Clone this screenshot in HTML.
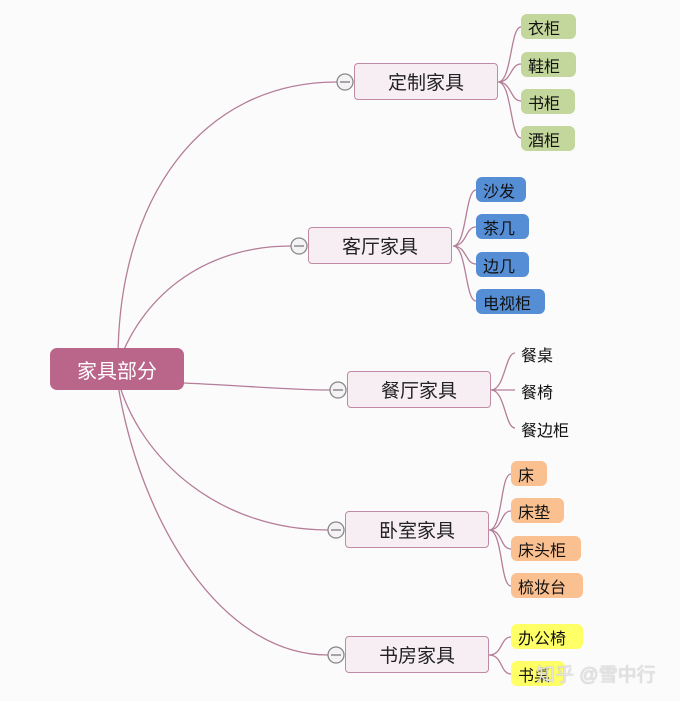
<!DOCTYPE html>
<html><head><meta charset="utf-8"><style>
body{margin:0;background:#fcfbfc;width:680px;height:701px;overflow:hidden;position:relative;font-family:"Liberation Sans","Noto Sans CJK SC",sans-serif}
.b{position:absolute;box-sizing:border-box;display:flex;align-items:center;justify-content:center}
.m{background:#f7eef3;border:1.5px solid #c08aa5;border-radius:4px;font-size:19px;color:#222;width:144px;height:37px}
.l{border-radius:6px;font-size:16px;color:#111;height:25px;justify-content:flex-start;padding-left:7px}
.g{background:#c3d69b}.u{background:#558ed5}.o{background:#fac090}.y{background:#ffff66}
.t{position:absolute;font-size:16px;color:#111}
</style></head><body>
<svg width="680" height="701" style="position:absolute;left:0;top:0">
<g fill="none" stroke="#b47d98" stroke-width="1.3">
<path d="M118,360 C118,200 200,82 337,82"/>
<path d="M118,365 C140,300 200,246 291,246"/>
<path d="M184,383 C250,386 290,390 330,390"/>
<path d="M118,380 C140,460 220,530 328,530"/>
<path d="M118,385 C140,520 220,655 328,655"/>
<path d="M498,82 C512,82 510,27 521,27 M498,82 C512,82 510,64 521,64 M498,82 C512,82 510,101 521,101 M498,82 C512,82 510,138 521,138"/>
<path d="M453,246 C467,246 465,190 476,190 M453,246 C467,246 465,227 476,227 M453,246 C467,246 465,264 476,264 M453,246 C467,246 465,301 476,301"/>
<path d="M491,390 C505,390 505,353 515,353 M491,390 L515,390 M491,390 C505,390 505,428 515,428"/>
<path d="M489,530 C503,530 500,474 511,474 M489,530 C503,530 500,511 511,511 M489,530 C503,530 500,549 511,549 M489,530 C503,530 500,586 511,586"/>
<path d="M489,655 C503,655 500,637 511,637 M489,655 C503,655 500,674 511,674"/>
</g>
<g fill="#f4f2f4" stroke="#888" stroke-width="1.3">
<circle cx="345" cy="82" r="8"/><circle cx="299" cy="246" r="8"/><circle cx="338" cy="390" r="8"/><circle cx="336" cy="530" r="8"/><circle cx="336" cy="655" r="8"/>
</g>
<g stroke="#777" stroke-width="1.3">
<path d="M340,82h10M294,246h10M333,390h10M331,530h10M331,655h10"/>
</g>
</svg>
<div class="b" style="left:50px;top:348px;width:134px;height:42px;background:#b9668a;border-radius:7px;color:#fff;font-size:20px">家具部分</div>
<div class="b m" style="left:354px;top:63px">定制家具</div>
<div class="b m" style="left:308px;top:227px">客厅家具</div>
<div class="b m" style="left:347px;top:371px">餐厅家具</div>
<div class="b m" style="left:345px;top:511px">卧室家具</div>
<div class="b m" style="left:345px;top:636px">书房家具</div>
<div class="b l g" style="left:521px;top:14px;width:55px">衣柜</div>
<div class="b l g" style="left:521px;top:52px;width:55px">鞋柜</div>
<div class="b l g" style="left:521px;top:89px;width:54px">书柜</div>
<div class="b l g" style="left:521px;top:126px;width:54px">酒柜</div>
<div class="b l u" style="left:476px;top:177px;width:50px">沙发</div>
<div class="b l u" style="left:476px;top:214px;width:53px">茶几</div>
<div class="b l u" style="left:476px;top:252px;width:53px">边几</div>
<div class="b l u" style="left:476px;top:289px;width:69px">电视柜</div>
<div class="t" style="left:521px;top:342px">餐桌</div>
<div class="t" style="left:521px;top:379px">餐椅</div>
<div class="t" style="left:521px;top:417px">餐边柜</div>
<div class="b l o" style="left:511px;top:461px;width:36px">床</div>
<div class="b l o" style="left:511px;top:498px;width:53px">床垫</div>
<div class="b l o" style="left:511px;top:536px;width:70px">床头柜</div>
<div class="b l o" style="left:511px;top:573px;width:72px">梳妆台</div>
<div class="b l y" style="left:511px;top:624px;width:72px">办公椅</div>
<div class="b l y" style="left:511px;top:661px;width:54px">书桌</div>
<div class="t" style="left:536px;top:660px;font-size:19px;color:rgba(235,235,235,0.9);text-shadow:0 0 1px #999">知乎 @雪中行</div>
</body></html>
